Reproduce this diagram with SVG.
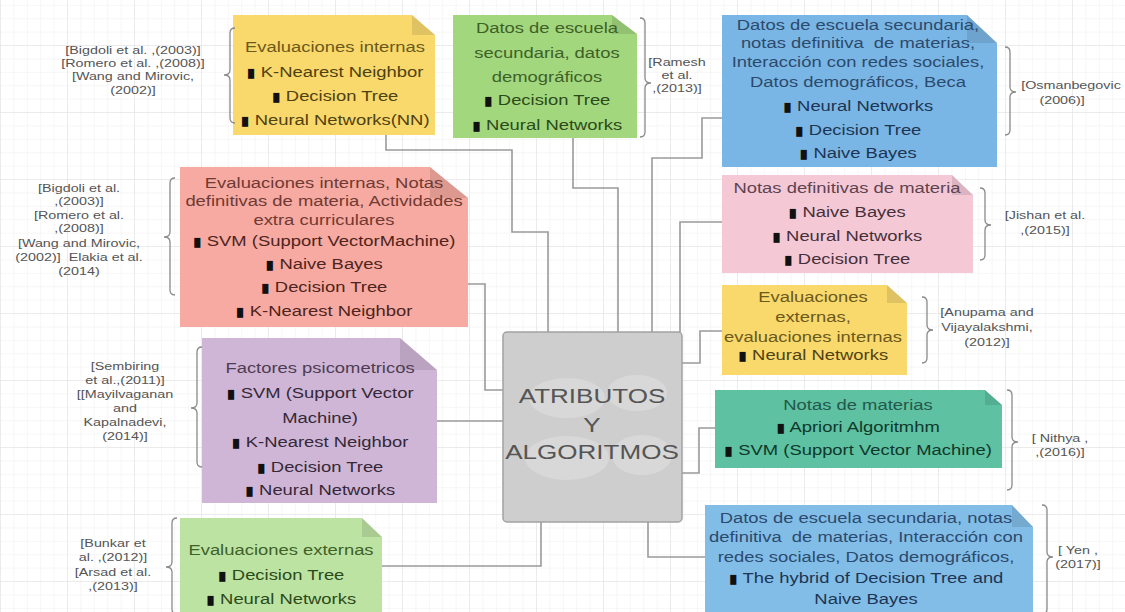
<svg xmlns="http://www.w3.org/2000/svg" width="1125" height="612" viewBox="0 0 1125 612">
<defs>
<pattern id="minor" width="13.4" height="13.4" patternUnits="userSpaceOnUse" x="1" y="46">
<path d="M13.4,0 V13.4 M0,13.4 H13.4" fill="none" stroke="#eeeeee" stroke-width="1"/>
</pattern>
<pattern id="major" width="67" height="67" patternUnits="userSpaceOnUse" x="1" y="46">
<path d="M67,0 V67 M0,67 H67" fill="none" stroke="#e0e0e0" stroke-width="1"/>
</pattern>
<style>
.bt{font-family:"Liberation Sans",Arial,sans-serif;font-size:14.5px;text-anchor:middle}
.ct{font-family:"Liberation Sans",Arial,sans-serif;font-size:11.3px;text-anchor:middle;fill:#555}
.b{font-family:"DejaVu Sans",sans-serif;font-size:13px;fill:#111}
.fold{fill:#000;fill-opacity:0.10}
.br{fill:none;stroke:#8a8a8a;stroke-width:1.3}
.con{fill:none;stroke:#9a9a9a;stroke-width:1.6}
.ctr{font-family:"Liberation Sans",Arial,sans-serif;font-size:20.5px;text-anchor:middle;fill:#555}
</style>
</defs>
<rect width="1125" height="612" fill="#ffffff"/>
<rect width="1125" height="612" fill="url(#minor)"/>
<rect width="1125" height="612" fill="url(#major)"/>

<g id="connectors">
<path class="con" d="M386,135 V150 H512 V232 H548 V332"/>
<path class="con" d="M573,138 V188 H618 V332"/>
<path class="con" d="M722,118 H702 V158 H652 V332"/>
<path class="con" d="M722,222 H680 V332"/>
<path class="con" d="M468,284 H485 V390 H503"/>
<path class="con" d="M437,421 H503"/>
<path class="con" d="M722,331 H700 V363 H682"/>
<path class="con" d="M715,428 H699 V473 H682"/>
<path class="con" d="M648,522 V557 H705"/>
<path class="con" d="M541,522 V566 H382"/>
</g>

<g id="center">
<rect x="503" y="332" width="179" height="190" rx="4" fill="#cecece" stroke="#a2a2a2" stroke-width="1.5"/>
<g fill="#ffffff" fill-opacity="0.22">
<ellipse cx="567" cy="398" rx="38" ry="20"/>
<ellipse cx="637" cy="393" rx="30" ry="18"/>
<ellipse cx="567" cy="458" rx="42" ry="22"/>
<ellipse cx="642" cy="455" rx="30" ry="20"/>
</g>
<text class="ctr" transform="matrix(1.27 0 0 1 592 0)"><tspan x="0" y="403">ATRIBUTOS</tspan><tspan x="0" y="432">Y</tspan><tspan x="0" y="459">ALGORITMOS</tspan></text>
</g>

<g id="n1">
<path d="M233,15 H412 L435,35 V135 H233 Z" fill="#f9d86c"/>
<path class="fold" d="M412,15 L435,35 H412 Z"/>
<text class="bt" fill="#4f4212" transform="matrix(1.27 0 0 1 335 0)"><tspan x="0" y="52" fill="#6b5a1c">Evaluaciones internas</tspan><tspan x="0" y="77"><tspan class="b">▮</tspan> K-Nearest Neighbor</tspan><tspan x="0" y="101"><tspan class="b">▮</tspan> Decision Tree</tspan><tspan x="0" y="125"><tspan class="b">▮</tspan> Neural Networks(NN)</tspan></text>
<path class="br" d="M235,28 Q230,28 230,33 V70 Q230,75 224,75 Q230,75 230,80 V118 Q230,123 235,123"/>
<text class="ct" transform="matrix(1.27 0 0 1 133 0)"><tspan x="0" y="54">[Bigdoli et al. ,(2003)]</tspan><tspan x="0" y="67">[Romero et al. ,(2008)]</tspan><tspan x="0" y="80">[Wang and Mirovic,</tspan><tspan x="0" y="94">(2002)]</tspan></text>
</g>

<g id="n2">
<path d="M453,15 H612 L637,34 V138 H453 Z" fill="#a3d77e"/>
<path class="fold" d="M612,15 L637,34 H612 Z"/>
<text class="bt" fill="#2b4a1a" transform="matrix(1.27 0 0 1 547 0)"><tspan x="0" y="33" fill="#3e6128">Datos de escuela</tspan><tspan x="0" y="58" fill="#3e6128">secundaria, datos</tspan><tspan x="0" y="82" fill="#3e6128">demográficos</tspan><tspan x="0" y="105"><tspan class="b">▮</tspan> Decision Tree</tspan><tspan x="0" y="130"><tspan class="b">▮</tspan> Neural Networks</tspan></text>
<path class="br" d="M640,18 Q645,18 645,23 V78 Q645,83 651,83 Q645,83 645,88 V132 Q645,137 640,137"/>
<text class="ct" transform="matrix(1.27 0 0 1 677 0)"><tspan x="0" y="66">[Ramesh</tspan><tspan x="0" y="79">et al.</tspan><tspan x="0" y="92">,(2013)]</tspan></text>
</g>

<g id="n3">
<path d="M722,15 H967 L997,43 V167 H722 Z" fill="#7ab6e5"/>
<path class="fold" d="M967,15 L997,43 H967 Z"/>
<text class="bt" fill="#1d3552" transform="matrix(1.27 0 0 1 858 0)"><tspan x="0" y="30" fill="#2c4a6c">Datos de escuela secundaria,</tspan><tspan x="0" y="48" fill="#2c4a6c">notas definitiva&#160; de materias,</tspan><tspan x="0" y="67" fill="#2c4a6c">Interacción con redes sociales,</tspan><tspan x="0" y="87" fill="#2c4a6c">Datos demográficos, Beca</tspan><tspan x="0" y="111"><tspan class="b">▮</tspan> Neural Networks</tspan><tspan x="0" y="135"><tspan class="b">▮</tspan> Decision Tree</tspan><tspan x="0" y="158"><tspan class="b">▮</tspan> Naive Bayes</tspan></text>
<path class="br" d="M1005,47 Q1010,47 1010,52 V87 Q1010,92 1016,92 Q1010,92 1010,97 V130 Q1010,135 1005,135"/>
<text class="ct" transform="matrix(1.27 0 0 1 1071 0)"><tspan x="0" y="89">[Osmanbegovic</tspan><tspan x="-7" y="104">(2006)]</tspan></text>
</g>

<g id="n4">
<path d="M180,167 H430 L468,198 V327 H180 Z" fill="#f7aaa1"/>
<path class="fold" d="M430,167 L468,198 H430 Z"/>
<text class="bt" fill="#4e2420" transform="matrix(1.27 0 0 1 324 0)"><tspan x="0" y="188" fill="#6e3a34">Evaluaciones internas, Notas</tspan><tspan x="0" y="206" fill="#6e3a34">definitivas de materia, Actividades</tspan><tspan x="0" y="225" fill="#6e3a34">extra curriculares</tspan><tspan x="0" y="246"><tspan class="b">▮</tspan> SVM (Support VectorMachine)</tspan><tspan x="0" y="269"><tspan class="b">▮</tspan> Naive Bayes</tspan><tspan x="0" y="292"><tspan class="b">▮</tspan> Decision Tree</tspan><tspan x="0" y="316"><tspan class="b">▮</tspan> K-Nearest Neighbor</tspan></text>
<path class="br" d="M175,178 Q170,178 170,183 V232 Q170,237 164,237 Q170,237 170,242 V290 Q170,295 175,295"/>
<text class="ct" transform="matrix(1.27 0 0 1 79 0)"><tspan x="0" y="192">[Bigdoli et al.</tspan><tspan x="0" y="205">,(2003)]</tspan><tspan x="0" y="219">[Romero et al.</tspan><tspan x="0" y="232">,(2008)]</tspan><tspan x="0" y="247">[Wang and Mirovic,</tspan><tspan x="0" y="261">(2002)]&#160; Elakia et al.</tspan><tspan x="0" y="275">(2014)</tspan></text>
</g>

<g id="n5">
<path d="M722,175 H952 L973,195 V273 H722 Z" fill="#f5c8d6"/>
<path class="fold" d="M952,175 L973,195 H952 Z"/>
<text class="bt" fill="#45303a" transform="matrix(1.27 0 0 1 847 0)"><tspan x="0" y="193" fill="#5e4450">Notas definitivas de materia</tspan><tspan x="0" y="217"><tspan class="b">▮</tspan> Naive Bayes</tspan><tspan x="0" y="241"><tspan class="b">▮</tspan> Neural Networks</tspan><tspan x="0" y="264"><tspan class="b">▮</tspan> Decision Tree</tspan></text>
<path class="br" d="M980,188 Q985,188 985,193 V220 Q985,225 991,225 Q985,225 985,230 V255 Q985,260 980,260"/>
<text class="ct" transform="matrix(1.27 0 0 1 1045 0)"><tspan x="0" y="219">[Jishan et al.</tspan><tspan x="0" y="234">,(2015)]</tspan></text>
</g>

<g id="n6">
<path d="M722,285 H887 L907,303 V375 H722 Z" fill="#f9d86c"/>
<path class="fold" d="M887,285 L907,303 H887 Z"/>
<text class="bt" fill="#4f4212" transform="matrix(1.27 0 0 1 813 0)"><tspan x="0" y="302" fill="#6b5a1c">Evaluaciones</tspan><tspan x="0" y="322" fill="#6b5a1c">externas,</tspan><tspan x="0" y="342" fill="#6b5a1c">evaluaciones internas</tspan><tspan x="0" y="360"><tspan class="b">▮</tspan> Neural Networks</tspan></text>
<path class="br" d="M922,297 Q927,297 927,302 V325 Q927,330 933,330 Q927,330 927,335 V358 Q927,363 922,363"/>
<text class="ct" transform="matrix(1.27 0 0 1 987 0)"><tspan x="0" y="316">[Anupama and</tspan><tspan x="0" y="331">Vijayalakshmi,</tspan><tspan x="0" y="346">(2012)]</tspan></text>
</g>

<g id="n7">
<path d="M715,390 H985 L1002,405 V468 H715 Z" fill="#5dc1a2"/>
<path class="fold" d="M985,390 L1002,405 H985 Z"/>
<text class="bt" fill="#10382b" transform="matrix(1.27 0 0 1 858 0)"><tspan x="0" y="410" fill="#24584a">Notas de materias</tspan><tspan x="0" y="432"><tspan class="b">▮</tspan> Apriori Algoritmhm</tspan><tspan x="0" y="455"><tspan class="b">▮</tspan> SVM (Support Vector Machine)</tspan></text>
<path class="br" d="M1007,390 Q1012,390 1012,395 V437 Q1012,442 1018,442 Q1012,442 1012,447 V485 Q1012,490 1007,490"/>
<text class="ct" transform="matrix(1.27 0 0 1 1060 0)"><tspan x="0" y="442">[ Nithya ,</tspan><tspan x="0" y="456">,(2016)]</tspan></text>
</g>

<g id="n8">
<path d="M705,505 H1012 L1033,527 V614 H705 Z" fill="#82bde8"/>
<path class="fold" d="M1012,505 L1033,527 H1012 Z"/>
<text class="bt" fill="#1d3552" transform="matrix(1.27 0 0 1 866 0)"><tspan x="0" y="523" fill="#2c4a6c">Datos de escuela secundaria, notas</tspan><tspan x="0" y="542" fill="#2c4a6c">definitiva&#160; de materias, Interacción con</tspan><tspan x="0" y="562" fill="#2c4a6c">redes sociales, Datos demográficos,</tspan><tspan x="0" y="583"><tspan class="b">▮</tspan> The hybrid of Decision Tree and</tspan><tspan x="0" y="604">Naive Bayes</tspan></text>
<path class="br" d="M1042,505 Q1047,505 1047,510 V552 Q1047,557 1053,557 Q1047,557 1047,562 V609 Q1047,614 1042,614"/>
<text class="ct" transform="matrix(1.27 0 0 1 1078 0)"><tspan x="0" y="554">[ Yen ,</tspan><tspan x="0" y="568">(2017)]</tspan></text>
</g>

<g id="n9">
<path d="M202,338 H400 L437,370 V503 H202 Z" fill="#cfb6d6"/>
<path class="fold" d="M400,338 L437,370 H400 Z"/>
<text class="bt" fill="#352838" transform="matrix(1.27 0 0 1 320 0)"><tspan x="0" y="373" fill="#4e3c54">Factores psicometricos</tspan><tspan x="0" y="398"><tspan class="b">▮</tspan> SVM (Support Vector</tspan><tspan x="0" y="423">Machine)</tspan><tspan x="0" y="447"><tspan class="b">▮</tspan> K-Nearest Neighbor</tspan><tspan x="0" y="472"><tspan class="b">▮</tspan> Decision Tree</tspan><tspan x="0" y="495"><tspan class="b">▮</tspan> Neural Networks</tspan></text>
<path class="br" d="M202,347 Q197,347 197,352 V403 Q197,408 191,408 Q197,408 197,413 V462 Q197,467 202,467"/>
<text class="ct" transform="matrix(1.27 0 0 1 125 0)"><tspan x="0" y="370">[Sembiring</tspan><tspan x="0" y="384">et al.,(2011)]</tspan><tspan x="0" y="398">[[Mayilvaganan</tspan><tspan x="0" y="412">and</tspan><tspan x="0" y="426">Kapalnadevi,</tspan><tspan x="0" y="440">(2014)]</tspan></text>
</g>

<g id="n10">
<path d="M180,518 H362 L382,537 V614 H180 Z" fill="#bde3a3"/>
<path class="fold" d="M362,518 L382,537 H362 Z"/>
<text class="bt" fill="#2b4a1a" transform="matrix(1.27 0 0 1 281 0)"><tspan x="0" y="555" fill="#3e6128">Evaluaciones externas</tspan><tspan x="0" y="580"><tspan class="b">▮</tspan> Decision Tree</tspan><tspan x="0" y="604"><tspan class="b">▮</tspan> Neural Networks</tspan></text>
<path class="br" d="M177,518 Q172,518 172,523 V562 Q172,567 166,567 Q172,567 172,572 V609 Q172,614 177,614"/>
<text class="ct" transform="matrix(1.27 0 0 1 113 0)"><tspan x="0" y="547">[Bunkar et</tspan><tspan x="0" y="561">al. ,(2012)]</tspan><tspan x="0" y="576">[Arsad et al.</tspan><tspan x="0" y="590">,(2013)]</tspan></text>
</g>
</svg>
